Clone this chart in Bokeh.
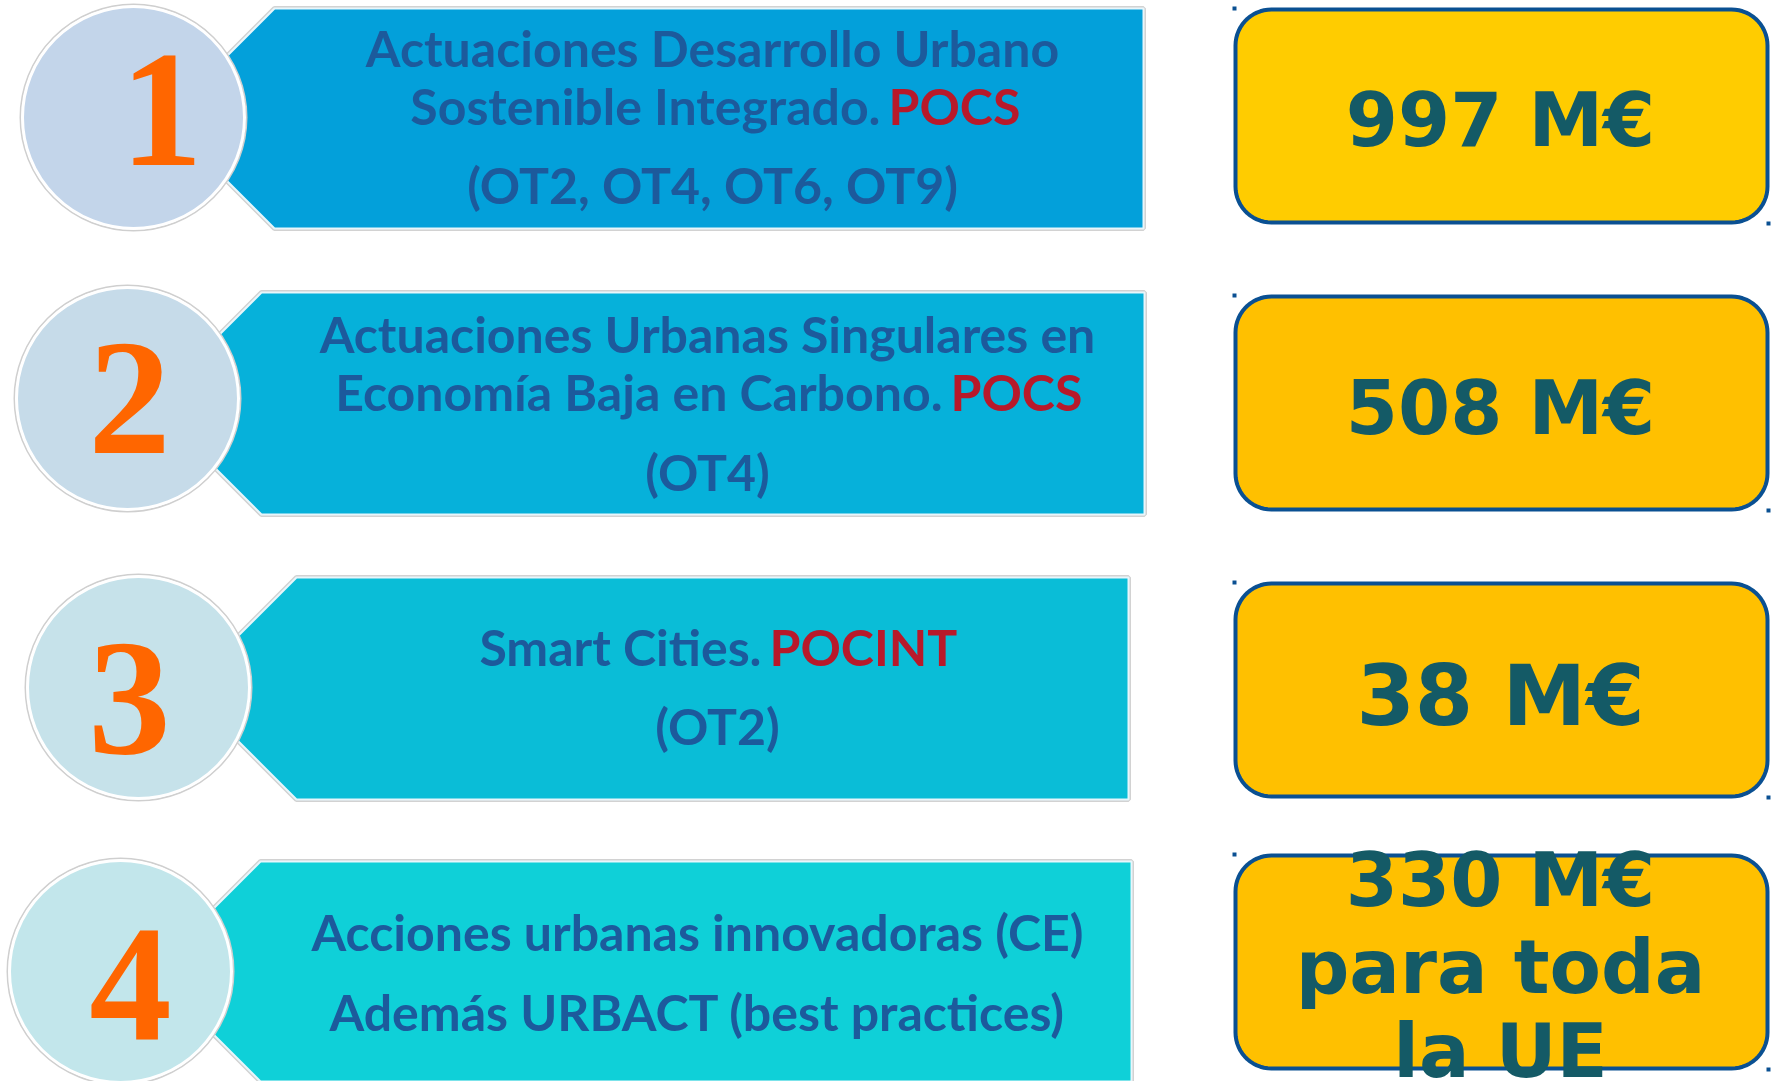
import numpy as np
from bokeh.plotting import figure
from bokeh.models import Range1d
from bokeh.core.properties import value
from bokeh.embed import file_html
from bokeh.resources import INLINE

# ---------------- data ----------------
numbers = ["1", "2", "3", "4"]
line_texts = [
    ["Actuaciones Desarrollo Urbano", "Sostenible Integrado.", "(OT2, OT4, OT6, OT9)"],
    ["Actuaciones Urbanas Singulares en", "Economía Baja en Carbono.", "(OT4)"],
    ["Smart Cities.", "(OT2)"],
    ["Acciones urbanas innovadoras (CE)", "Además URBACT (best practices)"],
]
programs = ["POCS", "POCS", "POCINT", ""]
program_line = [1, 1, 0, -1]
amounts = [["997 M€"], ["508 M€"], ["38 M€"], ["330 M€", "para toda", "la UE"]]

# ---------------- layout (page pixel coordinates) ----------------
W, H = 1771, 1081
circle_x = [133, 127, 138, 120]
circle_y = [117, 398, 687, 971]
circle_r = 111
num_x = [161, 129, 129, 130]
num_y = [110, 398, 698, 984]

box_left = [274, 261, 296, 260]
box_right = [1143, 1144, 1128, 1131]
box_top = [8, 292, 577, 861]
box_bot = [228, 514, 799, 1081]

text_cx = [712, 707, 717, 697]
text_y = [[47, 105, 184], [333, 391, 471], [646, 725], [931, 1011]]
split_x = [884, 946, 765, None]

rb_left, rb_right = 1235, 1767
rb_top = [9, 296, 583, 855]
rb_bot = [222, 509, 796, 1068]
rb_cx = 1500
amount_y = [[119], [407], [695], [879, 966, 1050]]
amount_size = ["75px", "75px", "84px", "75px"]

circle_fill = ["#c3d5ea", "#c6dbe9", "#c6e2ea", "#c2e6eb"]
box_fill = ["#03a0da", "#06b1da", "#0abdd7", "#0fd0d8"]
rb_fill = ["#ffcc00", "#ffc000", "#ffc000", "#ffc000"]
text_blue = "#1c5a9c"
text_red = "#b8192a"
amount_col = "#145a66"
num_col = "#ff6600"
rb_line = "#0a5092"

p = figure(width=W, height=H, x_range=Range1d(0, W), y_range=Range1d(H, 0),
           output_backend="svg", toolbar_location=None, min_border=0)
p.axis.visible = False
p.grid.visible = False
p.outline_line_color = None
p.background_fill_color = "white"
p.border_fill_color = "white"

# hexagon boxes
xs, ys = [], []
for i in range(4):
    cy = (box_top[i] + box_bot[i]) / 2
    half = (box_bot[i] - box_top[i]) / 2
    tip = box_left[i] - half
    xs.append([tip, box_left[i], box_right[i], box_right[i], box_left[i]])
    ys.append([cy, box_top[i], box_top[i], box_bot[i], box_bot[i]])
p.patches(xs, ys, fill_color="#d2d2d2", line_color="#d2d2d2", line_width=5)
p.patches(xs, ys, fill_color=box_fill, line_color="#e8f6fb", line_width=2)

# circles
p.circle(circle_x, circle_y, radius=circle_r + 2, fill_color=None, line_color="#cfcfcf", line_width=2)
p.circle(circle_x, circle_y, radius=circle_r, fill_color=circle_fill, line_color="white", line_width=3)

# numbers
p.text(num_x, num_y, text=numbers, text_font=value("Liberation Serif"), text_font_style="bold",
       text_font_size="165px", text_color=num_col, text_align="center", text_baseline="middle")

# box texts
FS = "50px"
for i in range(4):
    for j, t in enumerate(line_texts[i]):
        if j == program_line[i]:
            p.text([split_x[i] - 4], [text_y[i][j]], text=[t], text_font=value("Lato"),
                   text_font_style="bold", text_font_size=FS, text_color=text_blue,
                   text_align="right", text_baseline="middle")
            p.text([split_x[i] + 4], [text_y[i][j]], text=[programs[i]], text_font=value("Lato"),
                   text_font_style="bold", text_font_size=FS, text_color=text_red,
                   text_align="left", text_baseline="middle")
        else:
            p.text([text_cx[i]], [text_y[i][j]], text=[t], text_font=value("Lato"),
                   text_font_style="bold", text_font_size=FS, text_color=text_blue,
                   text_align="center", text_baseline="middle")


# rounded boxes on the right
def rounded(l, r, t, b, rad, n=16):
    px, py = [], []
    corners = [(r - rad, t + rad, -np.pi / 2, 0), (r - rad, b - rad, 0, np.pi / 2),
               (l + rad, b - rad, np.pi / 2, np.pi), (l + rad, t + rad, np.pi, 1.5 * np.pi)]
    for cx, cy, a0, a1 in corners:
        a = np.linspace(a0, a1, n)
        px.extend(cx + rad * np.cos(a))
        py.extend(cy + rad * np.sin(a))
    return px, py

rxs, rys = [], []
for i in range(4):
    a, b = rounded(rb_left, rb_right, rb_top[i], rb_bot[i], 36)
    rxs.append(a)
    rys.append(b)
p.patches(rxs, rys, fill_color=rb_fill, line_color=rb_line, line_width=4)

# tiny corner marks
p.rect([rb_left - 1] * 4, [t - 1 for t in rb_top], width=4, height=4, fill_color=rb_line, line_color=None)
p.rect([rb_right + 1] * 4, [b + 1 for b in rb_bot], width=4, height=4, fill_color=rb_line, line_color=None)

for i in range(4):
    for j, t in enumerate(amounts[i]):
        p.text([rb_cx], [amount_y[i][j]], text=[t], text_font=value("DejaVu Sans"), text_font_style="bold",
               text_font_size=amount_size[i], text_color=amount_col, text_align="center",
               text_baseline="middle")

open("out.html", "w").write(file_html(p, INLINE))
